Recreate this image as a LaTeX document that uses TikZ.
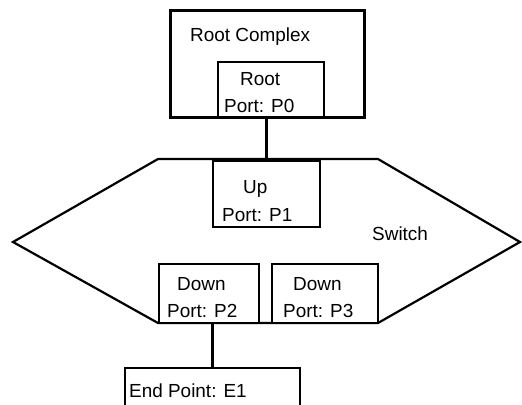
\documentclass[tikz,border=0pt]{standalone}
\usepackage{fontspec}
\setmainfont{Liberation Sans}
\begin{document}
\begin{tikzpicture}[x=1bp,y=-1bp,
  box/.style={draw=black,fill=white,rectangle,inner sep=0pt,line width=2.6bp},
  outerbox/.style={box,line width=3bp},
  hull/.style={draw=black,line width=2.2bp,line join=miter},
  link/.style={draw=black,line width=2.4bp},
  lbl/.style={anchor=base west,inner sep=0pt,font=\fontsize{19}{21}\selectfont}]
  \clip (0,0) rectangle (522,404);
  \fill[white] (0,0) rectangle (522,404);

  % root complex with its root port
  \node[outerbox,minimum width=194bp,minimum height=107bp] (rc) at (267,63.5) {};
  \node[box,minimum width=106bp,minimum height=55bp] (rp) at (271,89.5) {};
  \node[lbl] (rctext) at (190,41) {Root Complex};
  \node[lbl] (rptext1) at (240,85) {Root};
  \node[lbl] (rptext2) at (224,112) {Port: P0};

  % switch outline
  \coordinate (h1) at (158,159);
  \coordinate (h2) at (378,159);
  \coordinate (h3) at (520,242);
  \coordinate (h4) at (378,323);
  \coordinate (h5) at (158,323);
  \coordinate (h6) at (13,242);
  \draw[hull] (h1) -- (h2) -- (h3) -- (h4) -- (h5) -- (h6) -- cycle;
  \node[lbl] (swtext) at (372,240) {Switch};

  % switch ports
  \node[box,minimum width=107bp,minimum height=66bp] (up) at (266.5,194) {};
  \node[lbl] (uptext1) at (243,193) {Up};
  \node[lbl] (uptext2) at (222,221) {Port: P1};

  \node[box,minimum width=100bp,minimum height=59bp] (p2) at (209,293.5) {};
  \node[lbl] (p2text1) at (177,290) {Down};
  \node[lbl] (p2text2) at (167,317) {Port: P2};

  \node[box,minimum width=106bp,minimum height=59bp] (p3) at (325,293.5) {};
  \node[lbl] (p3text1) at (293,290) {Down};
  \node[lbl] (p3text2) at (283,317) {Port: P3};

  % end point
  \node[box,minimum width=175bp,minimum height=62bp] (ep) at (212.5,399) {};
  \node[lbl] (eptext) at (129,397) {End Point: E1};

  % links
  \draw[link] (rp.south -| up.north) -- (up.north);
  \draw[link] (p2.south -| ep.north) -- (ep.north);
\end{tikzpicture}
\end{document}
